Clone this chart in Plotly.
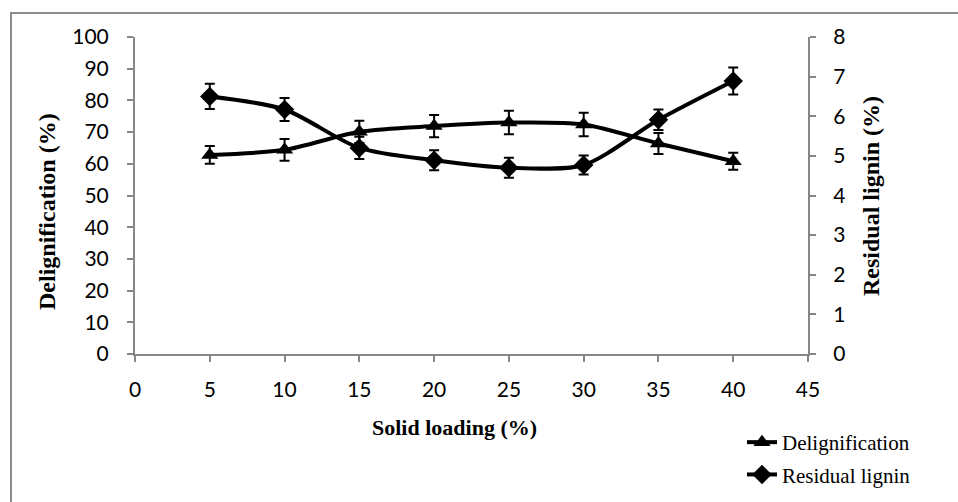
import plotly.graph_objects as go

solid_loading = [5, 10, 15, 20, 25, 30, 35, 40]
delignification = [62.8, 64.4, 70.1, 71.9, 73.0, 72.4, 66.4, 60.8]
delig_err = [2.8, 3.4, 3.5, 3.5, 3.7, 3.7, 3.3, 2.7]
residual_lignin = [6.50, 6.17, 5.20, 4.89, 4.70, 4.77, 5.91, 6.89]
resid_err = [0.32, 0.29, 0.28, 0.25, 0.25, 0.24, 0.26, 0.34]

x_ticks = [0, 5, 10, 15, 20, 25, 30, 35, 40, 45]
y1_ticks = [0, 10, 20, 30, 40, 50, 60, 70, 80, 90, 100]
y2_ticks = [0, 1, 2, 3, 4, 5, 6, 7, 8]

fig = go.Figure()
fig.add_trace(go.Scatter(
    x=solid_loading, y=delignification, name="Delignification",
    mode="lines+markers", line=dict(color="black", width=4, shape="spline", smoothing=0.8),
    marker=dict(symbol="triangle-up", size=15, color="black"),
    error_y=dict(type="data", array=delig_err, color="black", thickness=2, width=5),
    legendgroup="a", yaxis="y"))
fig.add_trace(go.Scatter(
    x=solid_loading, y=residual_lignin, name="Residual lignin",
    mode="lines+markers", line=dict(color="black", width=4, shape="spline", smoothing=0.8),
    marker=dict(symbol="diamond", size=15, color="black"),
    error_y=dict(type="data", array=resid_err, color="black", thickness=2, width=5),
    legendgroup="b", yaxis="y2"))

axis_common = dict(showgrid=False, zeroline=False, showline=True, linecolor="#868686", linewidth=2,
                   ticks="outside", ticklen=6, tickcolor="#868686", tickwidth=2, automargin=False,
                   tickfont=dict(family="Lato", size=21, color="black"))

W, H = 958, 502
PW, PH, L, B = 673, 317, 135, 354
title_font = dict(family="Liberation Serif", size=22, color="black")
vtitle_font = dict(family="Liberation Serif", size=24, color="black")

fig.update_layout(
    width=W, height=H, paper_bgcolor="white", plot_bgcolor="white",
    margin=dict(l=135, r=150, t=37, b=148, autoexpand=False),
    xaxis=dict(range=[0, 45], tickvals=x_ticks, ticklabelstandoff=10, **axis_common),
    yaxis=dict(range=[0, 100], tickvals=y1_ticks, ticklabelstandoff=14, **axis_common),
    yaxis2=dict(range=[0, 8], tickvals=y2_ticks, overlaying="y", side="right", anchor="x",
                ticklabelstandoff=13, **axis_common),
    showlegend=True,
    legend=dict(xref="container", yref="container", x=742 / W, xanchor="left",
                y=1 - 422 / H, yanchor="top", traceorder="grouped",
                tracegroupgap=2, font=dict(family="Liberation Serif", size=21, color="black"),
                bgcolor="rgba(0,0,0,0)"),
    annotations=[
        dict(text="<b>Delignification (%)</b>", xref="paper", yref="paper",
             x=(47 - L) / PW, y=(B - 212) / PH, xanchor="center", yanchor="middle",
             textangle=-90, showarrow=False, font=vtitle_font),
        dict(text="<b>Residual lignin (%)</b>", xref="paper", yref="paper",
             x=(871 - L) / PW, y=(B - 196) / PH, xanchor="center", yanchor="middle",
             textangle=-90, showarrow=False, font=vtitle_font),
        dict(text="<b>Solid loading (%)</b>", xref="paper", yref="paper",
             x=(454 - L) / PW, y=(B - 428) / PH, xanchor="center", yanchor="middle",
             showarrow=False, font=title_font),
    ],
    shapes=[dict(type="rect", xref="paper", yref="paper",
                 x0=(11 - L) / PW, x1=(990 - L) / PW,
                 y0=(B - 560) / PH, y1=(B - 13) / PH,
                 line=dict(color="#8c8c8c", width=2), fillcolor="rgba(0,0,0,0)", layer="below")],
)

fig.write_html("out.html", config={"displayModeBar": False},
               post_script="document.body.style.margin='0';document.body.style.overflow='hidden';")
